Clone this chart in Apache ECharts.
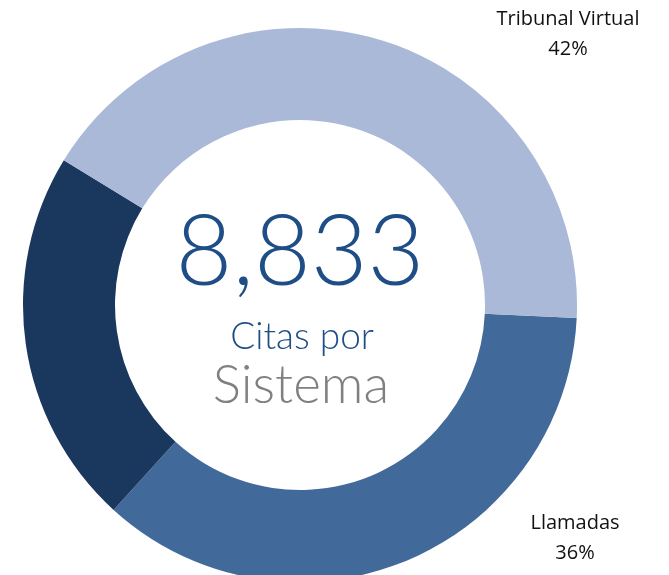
<!DOCTYPE html>
<html>
<head>
<meta charset="utf-8">
<script src="https://cdn.jsdelivr.net/npm/echarts@6/dist/echarts.min.js"></script>
<style>
  html, body { margin: 0; padding: 0; background: #fff; }
  #citasChart { width: 669px; height: 575px; }
</style>
</head>
<body>
<div id="citasChart"></div>
<script>
// datos (porcentajes por sistema)
const sistemas = ['Llamadas', 'Otros', 'Tribunal Virtual']
const porcentajes = [36, 22, 42]
const colores = ['#416A9B', '#1A375E', '#A9B9D7']
const totalCitas = '8,833'
const subtitulo1 = 'Citas por'
const subtitulo2 = 'Sistema'
// sistemas con etiqueta visible y su posicion
const etiquetas = {
  'Tribunal Virtual': [568, 34],
  'Llamadas': [575, 538]
}

const chart = echarts.init(document.getElementById('citasChart'))

const option = {
  animation: false,
  graphic: [
    {
      type: 'text',
      style: {
        x: 300, y: 253, text: totalCitas,
        textAlign: 'center', textVerticalAlign: 'middle',
        font: '300 98px Lato', fill: '#1F4E87'
      }
    },
    {
      type: 'text',
      style: {
        x: 302, y: 337, text: subtitulo1,
        textAlign: 'center', textVerticalAlign: 'middle',
        font: '300 37px Lato', fill: '#1F4E87'
      }
    },
    {
      type: 'text',
      style: {
        x: 301, y: 386, text: subtitulo2,
        textAlign: 'center', textVerticalAlign: 'middle',
        font: '300 53px Lato', fill: '#808080'
      }
    }
  ],
  series: [
    {
      name: 'Citas por Sistema',
      type: 'pie',
      center: [300, 305],
      radius: [185, 277],
      startAngle: -2.7,
      clockwise: true,
      silent: true,
      labelLine: { show: false },
      label: {
        position: 'outside',
        formatter: '{b}\n{d}%',
        fontFamily: 'Open Sans',
        fontSize: 20,
        lineHeight: 30,
        color: '#111',
        align: 'center'
      },
      labelLayout: function (params) {
        const name = sistemas[params.dataIndex]
        const pos = etiquetas[name]
        if (!pos) return { x: -500, y: -500 }
        return { x: pos[0], y: pos[1], align: 'center', verticalAlign: 'middle' }
      },
      data: sistemas.map((s, i) => ({
        name: s,
        value: porcentajes[i],
        itemStyle: { color: colores[i] },
        label: { show: !!etiquetas[s] }
      }))
    }
  ]
}
chart.setOption(option)
</script>
</body>
</html>
